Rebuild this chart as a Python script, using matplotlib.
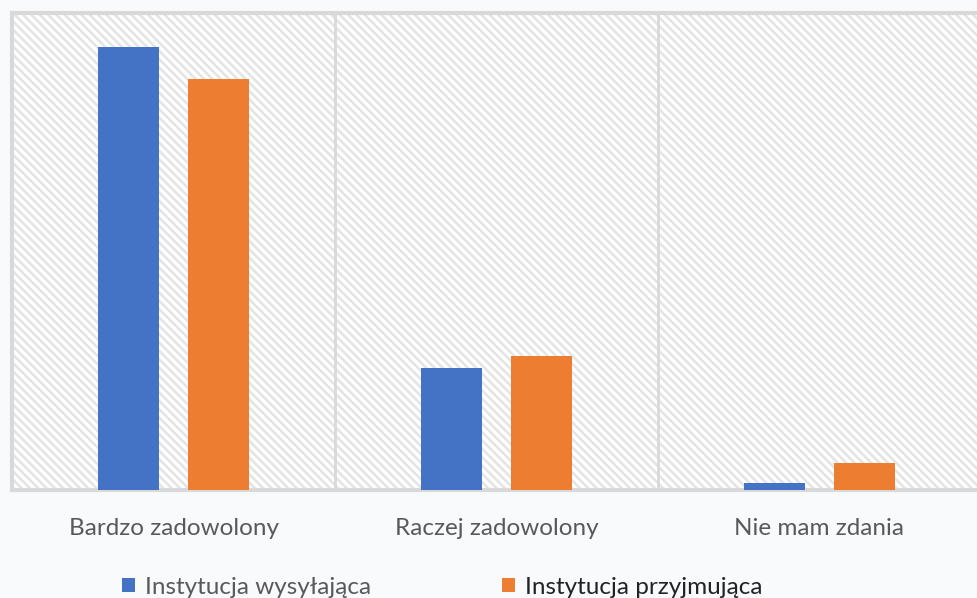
import numpy as np
import matplotlib.pyplot as plt
from matplotlib.patches import Rectangle

plt.rcParams['font.family'] = ['Lato', 'DejaVu Sans']

categories = ["Bardzo zadowolony", "Raczej zadowolony", "Nie mam zdania"]
series_names = ["Instytucja wysyłająca", "Instytucja przyjmująca"]
wysylajaca = [77.4, 21.3, 1.3]
przyjmujaca = [71.9, 23.4, 4.8]
colors = ["#4472C4", "#ED7D31"]

fig = plt.figure(figsize=(9.78, 5.98), dpi=100)
fig.patch.set_facecolor("#f9fafc")
ax = fig.add_axes([0.0123, 0.1806, 0.9907, 0.7977])
ax.set_facecolor("white")

# hatched background like the Excel pattern fill
plt.rcParams['hatch.linewidth'] = 1.8
bg = Rectangle((0, 0), 1, 1, transform=ax.transAxes, facecolor="white",
               edgecolor="#e4e4e4", hatch="\\\\\\\\", linewidth=0, zorder=0)
ax.add_patch(bg)

x = np.arange(len(categories))
w = 0.19
off = 0.14
ax.bar(x - off, wysylajaca, w, color=colors[0], label=series_names[0], zorder=3)
ax.bar(x + off, przyjmujaca, w, color=colors[1], label=series_names[1], zorder=3)

ax.set_xlim(-0.5, 2.5)
ax.set_ylim(0, 83.4)
for xv in [0.5, 1.5]:
    ax.axvline(xv, color="#d9d9d9", lw=2, zorder=1)
for s in ax.spines.values():
    s.set_color("#d9d9d9")
    s.set_linewidth(3)

ax.set_yticks([])
ax.set_xticks(x)
ax.set_xticklabels(categories, fontsize=17.5, color="#595959")
ax.tick_params(axis="x", length=0, pad=20)

leg = fig.legend(loc="center", bbox_to_anchor=(0.452, 0.018), ncol=2,
                 frameon=False, fontsize=17.5, handlelength=0.55, handleheight=0.55,
                 handletextpad=0.4, columnspacing=5.4)
leg.get_texts()[0].set_color("#595959")
leg.get_texts()[1].set_color("#222222")

plt.savefig("out.png", dpi=100, facecolor=fig.get_facecolor())
